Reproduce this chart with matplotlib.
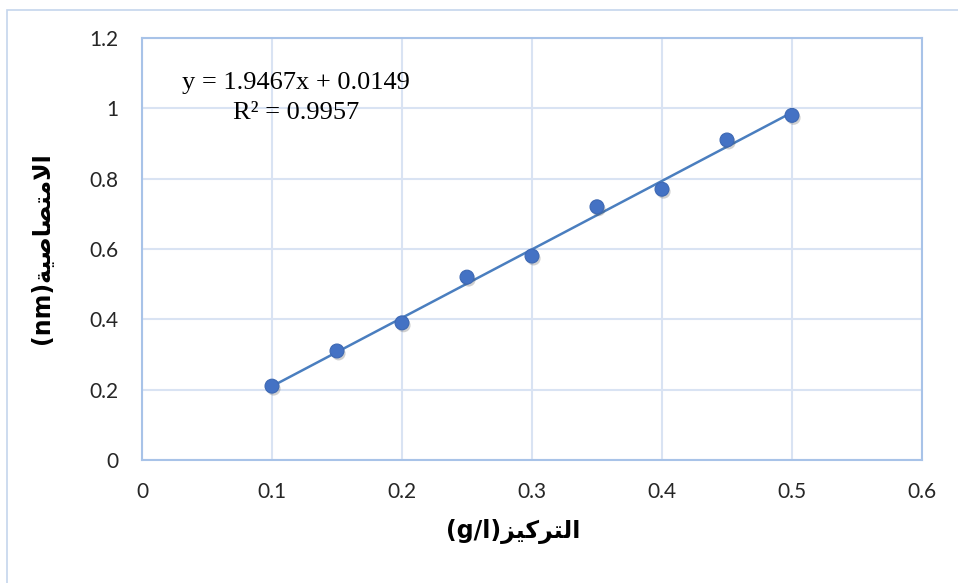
"""Calibration curve: absorbance vs. concentration with linear trendline."""

import matplotlib.pyplot as plt
import matplotlib.patheffects as pe
from matplotlib.patches import Rectangle

# measured points
concentration = [0.1, 0.15, 0.2, 0.25, 0.3, 0.35, 0.4, 0.45, 0.5]
absorbance = [0.21, 0.31, 0.39, 0.52, 0.58, 0.72, 0.77, 0.91, 0.98]

# linear fit reported on the chart
slope = 1.9467
intercept = 0.0149
r_squared = 0.9957

x_ticks = [0, 0.1, 0.2, 0.3, 0.4, 0.5, 0.6]
y_ticks = [0, 0.2, 0.4, 0.6, 0.8, 1.0, 1.2]
x_ticklabels = ["0", "0.1", "0.2", "0.3", "0.4", "0.5", "0.6"]
y_ticklabels = ["0", "0.2", "0.4", "0.6", "0.8", "1", "1.2"]

# Arabic labels written with presentation forms in display order
# (matplotlib does no Arabic shaping on its own)
x_label = "(g/l)\ufeb0\ufef4\ufedb\ufeae\ufe98\ufedf\ufe8d"
y_label = "(nm)\ufe94\ufef4\ufebb\ufe8e\ufebc\ufe98\ufee3\ufefb\ufe8d"

POINT_COLOR = "#4472c4"
LINE_COLOR = "#4a7ebf"
GRID_COLOR = "#d9e3f3"
FRAME_COLOR = "#a8c3e8"


def main():
    fig = plt.figure(figsize=(9.58, 5.83), dpi=100)
    ax = fig.add_axes([0.1482, 0.2110, 0.8142, 0.7238])

    # outer chart-area border
    fig.patches.append(Rectangle((7 / 958, -0.1), 1.2, 1.1 - 10 / 583,
                                 transform=fig.transFigure, fill=False,
                                 edgecolor="#c5d5ec", linewidth=1.2))

    x0, x1 = concentration[0], concentration[-1]
    ax.plot([x0, x1], [slope * x0 + intercept, slope * x1 + intercept],
            color=LINE_COLOR, linewidth=1.8, zorder=3)

    ax.plot(concentration, absorbance, linestyle="none", marker="o",
            markersize=10, markerfacecolor=POINT_COLOR,
            markeredgecolor="#3d68b3", markeredgewidth=0.8, zorder=4,
            path_effects=[pe.SimplePatchShadow(offset=(1.2, -1.8),
                                               shadow_rgbFace="#444444",
                                               alpha=0.25),
                          pe.Normal()])

    ax.set_xlim(0, 0.6)
    ax.set_ylim(0, 1.2)
    ax.set_xticks(x_ticks)
    ax.set_xticklabels(x_ticklabels)
    ax.set_yticks(y_ticks)
    ax.set_yticklabels(y_ticklabels)
    ax.tick_params(length=0, labelsize=15, colors="#262626")
    ax.tick_params(axis="x", pad=16)
    ax.tick_params(axis="y", pad=17)
    for lbl in ax.get_xticklabels() + ax.get_yticklabels():
        lbl.set_family("Lato")

    ax.grid(True, color=GRID_COLOR, linewidth=1.5)
    ax.set_axisbelow(True)
    for spine in ax.spines.values():
        spine.set_color(FRAME_COLOR)
        spine.set_linewidth(1.5)

    ax.set_xlabel(x_label, fontsize=17, fontweight="bold",
                  family=["DejaVu Sans"])
    ax.set_ylabel(y_label, fontsize=17, fontweight="bold",
                  family=["DejaVu Sans"])
    ax.xaxis.set_label_coords(0.4756, -0.141)
    ax.yaxis.set_label_coords(-0.113, 0.502)

    ax.text(0.1185, 1.072, f"y = {slope}x + {intercept}", ha="center",
            va="center", fontsize=19, family="Liberation Serif")
    ax.text(0.1185, 0.987, f"R² = {r_squared}", ha="center", va="center",
            fontsize=19, family="Liberation Serif")

    fig.savefig("out.png", dpi=100)
    plt.close(fig)


if __name__ == "__main__":
    main()
